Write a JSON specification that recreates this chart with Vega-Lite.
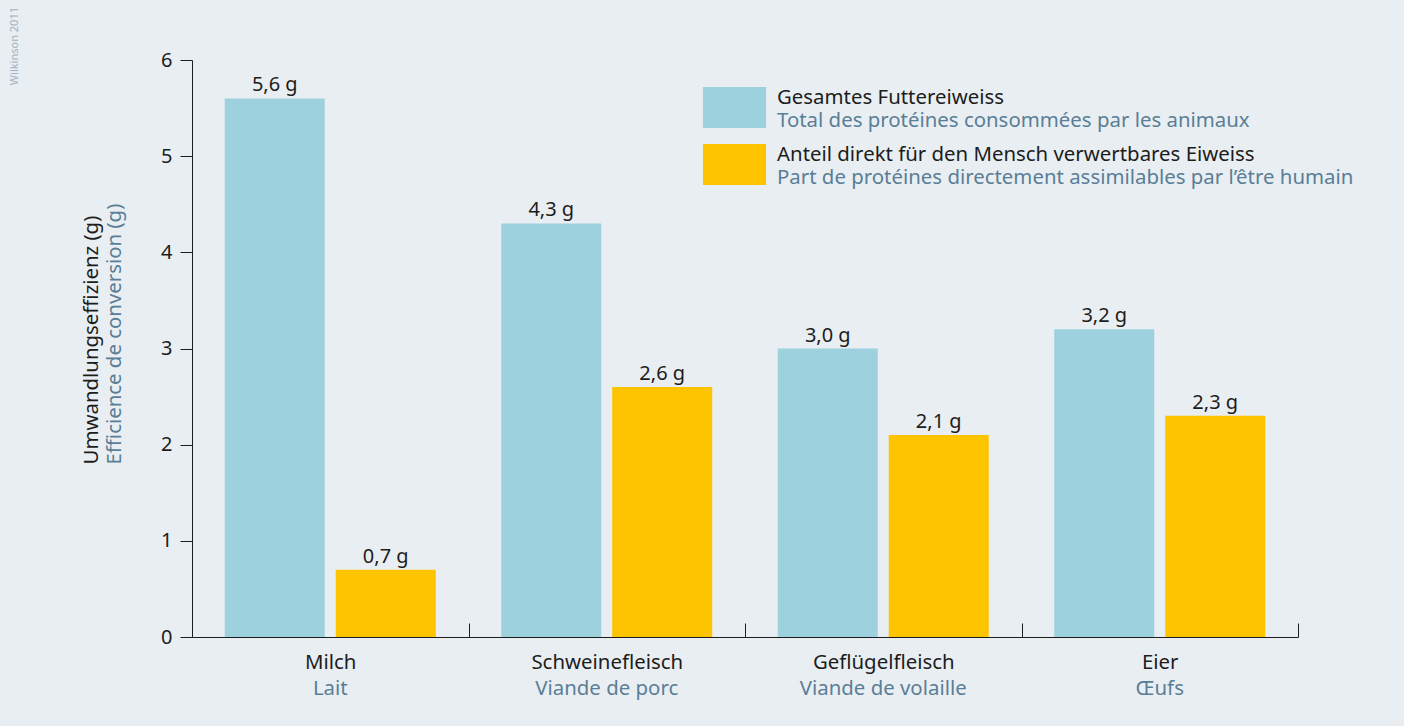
{
  "$schema": "https://vega.github.io/schema/vega-lite/v6.json",
  "width": 1106,
  "height": 577,
  "autosize": {"type": "none"},
  "padding": {"left": 192, "top": 60, "right": 106, "bottom": 89},
  "background": "#e9eef3",
  "config": {
    "view": {"stroke": null},
    "font": "Noto Sans",
    "locale": {"number": {"decimal": ",", "thousands": ".", "grouping": [3], "currency": ["", " g"]}},
    "axis": {
      "grid": false,
      "labelFont": "Noto Sans",
      "titleFont": "Noto Sans",
      "titleFontWeight": "normal",
      "domainColor": "#1d1d1b",
      "tickColor": "#1d1d1b",
      "labelColor": "#1d1d1b",
      "titleColor": "#1d1d1b"
    }
  },
  "title": {
    "text": "Wilkinson 2011",
    "orient": "left",
    "anchor": "end",
    "frame": "bounds",
    "fontSize": 11,
    "fontWeight": "normal",
    "font": "Noto Sans",
    "color": "#a3b2c1",
    "offset": 61,
    "dx": 43
  },
  "data": {
    "values": [
      {"kategorie": "Milch", "serie": "Gesamtes Futtereiweiss", "serie_fr": "Total des protéines consommées par les animaux", "wert": 5.6},
      {"kategorie": "Milch", "serie": "Anteil direkt für den Mensch verwertbares Eiweiss", "serie_fr": "Part de protéines directement assimilables par l’être humain", "wert": 0.7},
      {"kategorie": "Schweinefleisch", "serie": "Gesamtes Futtereiweiss", "serie_fr": "Total des protéines consommées par les animaux", "wert": 4.3},
      {"kategorie": "Schweinefleisch", "serie": "Anteil direkt für den Mensch verwertbares Eiweiss", "serie_fr": "Part de protéines directement assimilables par l’être humain", "wert": 2.6},
      {"kategorie": "Geflügelfleisch", "serie": "Gesamtes Futtereiweiss", "serie_fr": "Total des protéines consommées par les animaux", "wert": 3.0},
      {"kategorie": "Geflügelfleisch", "serie": "Anteil direkt für den Mensch verwertbares Eiweiss", "serie_fr": "Part de protéines directement assimilables par l’être humain", "wert": 2.1},
      {"kategorie": "Eier", "serie": "Gesamtes Futtereiweiss", "serie_fr": "Total des protéines consommées par les animaux", "wert": 3.2},
      {"kategorie": "Eier", "serie": "Anteil direkt für den Mensch verwertbares Eiweiss", "serie_fr": "Part de protéines directement assimilables par l’être humain", "wert": 2.3}
    ]
  },
  "layer": [
    {
      "mark": {"type": "bar"},
      "encoding": {
        "x": {
          "field": "kategorie",
          "type": "nominal",
          "sort": ["Milch", "Schweinefleisch", "Geflügelfleisch", "Eier"],
          "scale": {"paddingInner": 0, "paddingOuter": 0},
          "axis": {
            "orient": "bottom",
            "title": null,
            "labelAngle": 0,
            "labelFontSize": 20.4,
            "labelPadding": 29,
            "labelLimit": 400,
            "tickBand": "extent",
            "tickSize": -14,
            "tickWidth": 1,
            "domainWidth": 1
          }
        },
        "xOffset": {
          "field": "serie",
          "type": "nominal",
          "sort": ["Gesamtes Futtereiweiss", "Anteil direkt für den Mensch verwertbares Eiweiss"],
          "scale": {"paddingInner": 0.099, "paddingOuter": 0.295}
        },
        "y": {
          "field": "wert",
          "type": "quantitative",
          "scale": {"domain": [0, 6], "nice": false},
          "axis": {
            "orient": "left",
            "values": [0, 1, 2, 3, 4, 5, 6],
            "labelFontSize": 20,
            "labelPadding": 8,
            "tickSize": 12,
            "domainWidth": 1,
            "title": "Umwandlungseffizienz (g)",
            "titleFontSize": 20.4,
            "titleX": -95,
            "titleY": 404,
            "titleAlign": "left",
            "titleAnchor": null,
            "titleBaseline": "alphabetic",
            "titleAngle": -90
          }
        },
        "color": {
          "field": "serie",
          "type": "nominal",
          "scale": {
            "domain": ["Gesamtes Futtereiweiss", "Anteil direkt für den Mensch verwertbares Eiweiss"],
            "range": ["#9ed1de", "#fec400"]
          },
          "legend": {
            "orient": "none",
            "legendX": 522,
            "legendY": 27,
            "padding": 0,
            "title": null,
            "symbolType": "M-1.54,-1L1.54,-1L1.54,1L-1.54,1Z",
            "symbolSize": 1681,
            "symbolStrokeWidth": 0,
            "symbolOpacity": 1,
            "labelFont": "Noto Sans",
            "labelFontSize": 20.4,
            "labelColor": "#1d1d1b",
            "labelBaseline": "bottom",
            "labelOffset": 22,
            "labelLimit": 800,
            "rowPadding": 16
          }
        }
      }
    },
    {
      "mark": {"type": "text", "baseline": "alphabetic", "align": "center", "dy": -7, "fontSize": 20, "font": "Noto Sans", "color": "#1d1d1b"},
      "encoding": {
        "x": {
          "field": "kategorie",
          "type": "nominal",
          "sort": ["Milch", "Schweinefleisch", "Geflügelfleisch", "Eier"],
          "axis": {
            "orient": "bottom",
            "title": null,
            "labelAngle": 0,
            "labelFontSize": 20.4,
            "labelPadding": 41,
            "labelLimit": 400,
            "labelColor": "#5a7e96",
            "labelExpr": "datum.value == 'Milch' ? 'Lait' : datum.value == 'Schweinefleisch' ? 'Viande de porc' : datum.value == 'Geflügelfleisch' ? 'Viande de volaille' : 'Œufs'",
            "domain": false,
            "ticks": false,
            "tickSize": 0
          }
        },
        "xOffset": {
          "field": "serie",
          "type": "nominal",
          "sort": ["Gesamtes Futtereiweiss", "Anteil direkt für den Mensch verwertbares Eiweiss"]
        },
        "y": {
          "field": "wert",
          "type": "quantitative",
          "axis": {
            "orient": "left",
            "labels": false,
            "ticks": false,
            "tickSize": 0,
            "domain": false,
            "title": "Efficience de conversion (g)",
            "titleColor": "#5a7e96",
            "titleFontSize": 20.4,
            "titleX": -72,
            "titleY": 404,
            "titleAlign": "left",
            "titleAnchor": null,
            "titleBaseline": "alphabetic",
            "titleAngle": -90
          }
        },
        "text": {"field": "wert", "type": "quantitative", "format": "$.1f"},
        "opacity": {
          "field": "serie_fr",
          "type": "nominal",
          "scale": {
            "domain": ["Total des protéines consommées par les animaux", "Part de protéines directement assimilables par l’être humain"],
            "range": [1, 1]
          },
          "legend": {
            "orient": "none",
            "legendX": 522,
            "legendY": 50,
            "padding": 0,
            "title": null,
            "symbolType": "M0,-1L0,1",
            "symbolSize": 1681,
            "symbolStrokeWidth": 0,
            "symbolStrokeColor": "transparent",
            "symbolFillColor": "transparent",
            "labelFont": "Noto Sans",
            "labelFontSize": 20.4,
            "labelColor": "#5a7e96",
            "labelBaseline": "bottom",
            "labelOffset": 22,
            "labelLimit": 800,
            "rowPadding": 16
          }
        }
      }
    }
  ],
  "resolve": {"axis": {"x": "independent", "y": "independent"}}
}
